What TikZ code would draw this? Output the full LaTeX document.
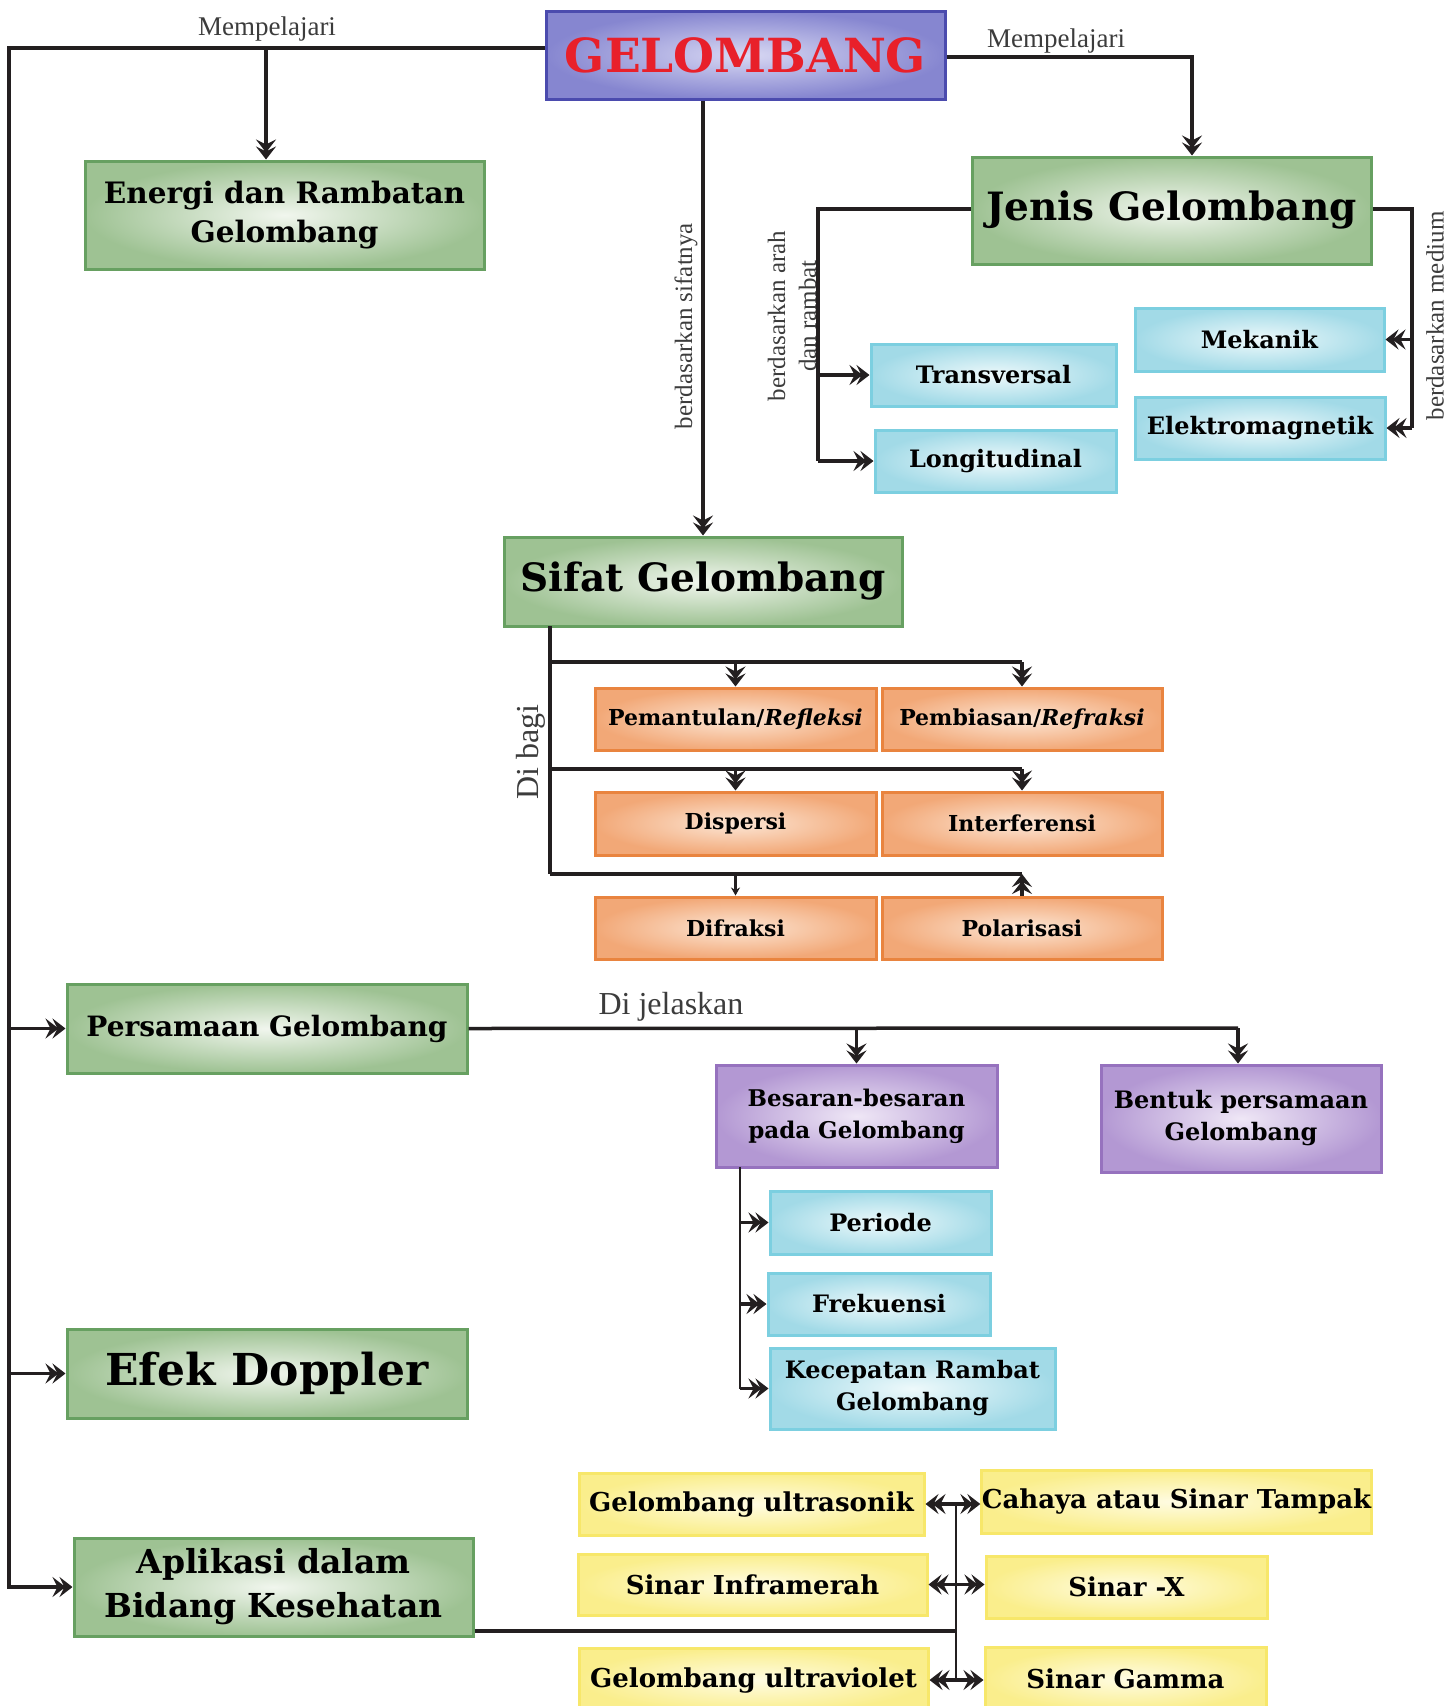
\documentclass[tikz,border=0pt]{standalone}
\usepackage{fontspec}
\setmainfont{Liberation Serif}
\newfontfamily\tebal{DejaVu Serif}
\usetikzlibrary{arrows.meta}
\definecolor{abu}{HTML}{3C3C3C}
\definecolor{garis}{HTML}{231F20}
\definecolor{merah}{HTML}{E8202A}
\definecolor{hijauTepi}{HTML}{67A061}
\definecolor{hijauLuar}{HTML}{9EC293}
\definecolor{hijauTengah}{HTML}{F1F6EE}
\definecolor{biruTepi}{HTML}{4B4BAE}
\definecolor{biruLuar}{HTML}{8686D0}
\definecolor{biruTengah}{HTML}{D8D8F3}
\definecolor{toskaTepi}{HTML}{7CCFE0}
\definecolor{toskaLuar}{HTML}{A2DAE7}
\definecolor{toskaTengah}{HTML}{EEF9FB}
\definecolor{oranyeTepi}{HTML}{E9843F}
\definecolor{oranyeLuar}{HTML}{F2A877}
\definecolor{oranyeTengah}{HTML}{FCE6D5}
\definecolor{unguTepi}{HTML}{9672BE}
\definecolor{unguLuar}{HTML}{B398D3}
\definecolor{unguTengah}{HTML}{EFE7F6}
\definecolor{kuningTepi}{HTML}{F7E76A}
\definecolor{kuningLuar}{HTML}{FAEE8C}
\definecolor{kuningTengah}{HTML}{FFFCE3}
\newcommand{\huruf}[2]{\fontsize{#1}{#2}\selectfont}
\tikzset{
  kotak/.style={draw, line width=3pt, text=black, align=center, inner sep=0pt,
    font=\tebal\bfseries},
  hijau/.style={kotak, draw=hijauTepi, inner color=hijauTengah, outer color=hijauLuar},
  biru/.style={kotak, draw=biruTepi, inner color=biruTengah, outer color=biruLuar},
  toska/.style={kotak, draw=toskaTepi, inner color=toskaTengah, outer color=toskaLuar},
  oranye/.style={kotak, draw=oranyeTepi, inner color=oranyeTengah, outer color=oranyeLuar},
  ungu/.style={kotak, draw=unguTepi, inner color=unguTengah, outer color=unguLuar},
  kuning/.style={kotak, draw=kuningTepi, inner color=kuningTengah, outer color=kuningLuar},
  ket/.style={text=abu, inner sep=0pt},
  hubung/.style={draw=garis, line width=3.5pt},
  tipis/.style={draw=garis, line width=2.5pt},
}
\begin{document}
\begin{tikzpicture}[x=1pt,y=-1pt,>={Stealth[length=13pt,width=20pt,inset=5pt,sep=-6pt]Stealth[length=13pt,width=20pt,inset=5pt]}]
\useasboundingbox (0,0) rectangle (1454,1706);

\node[biru, minimum width=399pt, minimum height=88pt, text=merah, font=\tebal\bfseries\huruf{47}{50}] (gel) at (745.5,55) {GELOMBANG};
\node[hijau, minimum width=399pt, minimum height=108pt, font=\tebal\bfseries\huruf{29.5}{39}] (energi) at (284.5,215) {Energi dan Rambatan\\Gelombang};
\node[hijau, minimum width=399pt, minimum height=107pt, font=\tebal\bfseries\huruf{39}{44}] (jenis) at (1171.5,210.5) {Jenis Gelombang};
\node[toska, minimum width=245pt, minimum height=62pt, font=\tebal\bfseries\huruf{24}{28}] (trans) at (993.5,375) {Transversal};
\node[toska, minimum width=241pt, minimum height=62pt, font=\tebal\bfseries\huruf{24}{28}] (longi) at (995.5,461) {Longitudinal};
\node[toska, minimum width=249pt, minimum height=63pt, font=\tebal\bfseries\huruf{24}{28}] (mekanik) at (1259.5,339.5) {Mekanik};
\node[toska, minimum width=250pt, minimum height=62pt, font=\tebal\bfseries\huruf{24}{28}] (elektro) at (1260,428) {Elektromagnetik};
\node[hijau, minimum width=398pt, minimum height=89pt, font=\tebal\bfseries\huruf{39}{44}] (sifat) at (703,581.5) {Sifat Gelombang};

\node[oranye, minimum width=281pt, minimum height=62pt, font=\tebal\bfseries\huruf{22}{26}] (refleksi) at (735.5,719) {Pemantulan/\textit{Refleksi}};
\node[oranye, minimum width=280pt, minimum height=62pt, font=\tebal\bfseries\huruf{22}{26}] (refraksi) at (1022,719) {Pembiasan/\textit{Refraksi}};
\node[oranye, minimum width=281pt, minimum height=63pt, font=\tebal\bfseries\huruf{22}{26}] (dispersi) at (735.5,823.5) {Dispersi};
\node[oranye, minimum width=280pt, minimum height=63pt, font=\tebal\bfseries\huruf{22}{26}] (interferensi) at (1022,823.5) {Interferensi};
\node[oranye, minimum width=281pt, minimum height=62pt, font=\tebal\bfseries\huruf{22}{26}] (difraksi) at (735.5,928) {Difraksi};
\node[oranye, minimum width=280pt, minimum height=62pt, font=\tebal\bfseries\huruf{22}{26}] (polarisasi) at (1022,928) {Polarisasi};

\node[hijau, minimum width=400pt, minimum height=89pt, font=\tebal\bfseries\huruf{28}{32}] (persamaan) at (267,1028.5) {Persamaan Gelombang};
\node[ungu, minimum width=281pt, minimum height=102pt, font=\tebal\bfseries\huruf{23}{32}] (besaran) at (856.5,1116) {Besaran-besaran\\pada Gelombang};
\node[ungu, minimum width=280pt, minimum height=107pt, font=\tebal\bfseries\huruf{24}{32}] (bentuk) at (1241,1118.5) {Bentuk persamaan\\Gelombang};
\node[toska, minimum width=221pt, minimum height=63pt, font=\tebal\bfseries\huruf{24}{28}] (periode) at (880.5,1222.5) {Periode};
\node[toska, minimum width=222pt, minimum height=62pt, font=\tebal\bfseries\huruf{24}{28}] (frekuensi) at (879,1304) {Frekuensi};
\node[toska, minimum width=285pt, minimum height=81pt, font=\tebal\bfseries\huruf{24}{32}] (kecepatan) at (912.5,1388.5) {Kecepatan Rambat\\Gelombang};
\node[hijau, minimum width=400pt, minimum height=89pt, font=\tebal\bfseries\huruf{44}{48}] (efek) at (267,1373.5) {Efek Doppler};
\node[hijau, minimum width=399pt, minimum height=98pt, font=\tebal\bfseries\huruf{33}{44}] (aplikasi) at (273.5,1587) {Aplikasi dalam\\Bidang Kesehatan};

\node[kuning, minimum width=345pt, minimum height=62pt, font=\tebal\bfseries\huruf{26}{30}] (ultrasonik) at (751.5,1504) {Gelombang ultrasonik};
\node[kuning, minimum width=385pt, minimum height=63pt, font=\tebal\bfseries\huruf{26}{30}] (cahaya) at (1176.5,1501.5) {Cahaya atau Sinar Tampak};
\node[kuning, minimum width=349pt, minimum height=61pt, font=\tebal\bfseries\huruf{26}{30}] (inframerah) at (752.5,1584.5) {Sinar Inframerah};
\node[kuning, minimum width=281pt, minimum height=62pt, font=\tebal\bfseries\huruf{26}{30}] (sinarx) at (1126.5,1587) {Sinar -X};
\node[kuning, minimum width=349pt, minimum height=64pt, font=\tebal\bfseries\huruf{26}{30}] (ultraviolet) at (753.5,1680) {Gelombang ultraviolet};
\node[kuning, minimum width=281pt, minimum height=64pt, font=\tebal\bfseries\huruf{26}{30}] (gamma) at (1125.5,1679) {Sinar Gamma};

\node[ket, font=\huruf{27}{30}] (ket1) at (267,29) {Mempelajari};
\node[ket, font=\huruf{27}{30}] (ket2) at (1056,41) {Mempelajari};
\node[ket, rotate=90, font=\huruf{25}{28}] (ket3) at (686,326) {berdasarkan sifatnya};
\node[ket, rotate=90, align=center, font=\huruf{25}{31}] (ket4) at (792,316) {berdasarkan arah\\dan rambat};
\node[ket, rotate=90, font=\huruf{25}{28}] (ket5) at (1435,316) {berdasarkan medium};
\node[ket, rotate=90, font=\huruf{32}{34}] (ket6) at (531,752) {Di bagi};
\node[ket, font=\huruf{32}{34}] (ket7) at (671,1007) {Di jelaskan};

\coordinate (lt) at (9,48);
\coordinate (lb) at (9,1589);
\coordinate (ea) at (266,48);
\coordinate (jr) at (1192,57);
\coordinate (ja) at (818,209);
\coordinate (jb) at (1412,209);
\coordinate (sa) at (550,626);
\coordinate (b1) at (550,662);
\coordinate (b2) at (550,769);
\coordinate (b3) at (550,874);
\coordinate (pa) at (1238,1028);
\coordinate (ba) at (740,1167);
\coordinate (ya) at (956,1631);

\draw[hubung] (gel.west|-lt) -- (lt) -- (lb);
\draw[hubung,->] (ea) -- (ea|-energi.north);
\draw[hubung,->] (lb|-persamaan) -- (persamaan.west);
\draw[hubung,->] (lb|-efek) -- (efek.west);
\draw[hubung,->] (lb|-aplikasi) -- (aplikasi.west);

\draw[hubung,->] (gel.east|-jr) -- (jr) -- (jr|-jenis.north);
\draw[hubung] (jenis.west|-ja) -- (ja) -- (ja|-longi);
\draw[hubung,->] (ja|-trans) -- (trans.west);
\draw[hubung,->] (ja|-longi) -- (longi.west);
\draw[hubung] (jenis.east|-jb) -- (jb) -- (jb|-elektro);
\draw[hubung,->] (jb|-mekanik) -- (mekanik.east);
\draw[hubung,->] (jb|-elektro) -- (elektro.east);

\draw[hubung,->] (gel.south-|sifat.north) -- (sifat.north);
\draw[hubung] (sa) -- (b3);
\draw[hubung] (b1) -- (b1-|refraksi);
\draw[hubung,->] (b1-|refleksi) -- (refleksi.north);
\draw[hubung,->] (b1-|refraksi) -- (refraksi.north);
\draw[hubung] (b2) -- (b2-|interferensi);
\draw[hubung,->] (b2-|dispersi) -- (dispersi.north);
\draw[hubung,->] (b2-|interferensi) -- (interferensi.north);
\draw[hubung] (b3) -- (b3-|polarisasi);
\draw[tipis,-{Stealth[length=8pt,width=9pt]}] (b3-|difraksi) -- (difraksi.north);
\draw[hubung,->] (polarisasi.north) -- (b3-|polarisasi);

\draw[hubung] (persamaan.east) -- (pa);
\draw[hubung,->] (pa) -- (pa|-bentuk.north);
\draw[hubung,->] (besaran.north|-pa) -- (besaran.north);
\draw[tipis] (ba) -- (ba|-kecepatan);
\draw[hubung,->] (ba|-periode) -- (periode.west);
\draw[hubung,->] (ba|-frekuensi) -- (frekuensi.west);
\draw[hubung,->] (ba|-kecepatan) -- (kecepatan.west);

\draw[hubung] (ya-|aplikasi.east) -- (ya);
\draw[tipis] (ya|-ultrasonik) -- (ya|-ultraviolet);
\draw[hubung,<->] (ultrasonik.east) -- (cahaya.west|-ultrasonik.east);
\draw[hubung,<->] (inframerah.east) -- (sinarx.west|-inframerah.east);
\draw[hubung,<->] (ultraviolet.east) -- (gamma.west|-ultraviolet.east);
\end{tikzpicture}
\end{document}
